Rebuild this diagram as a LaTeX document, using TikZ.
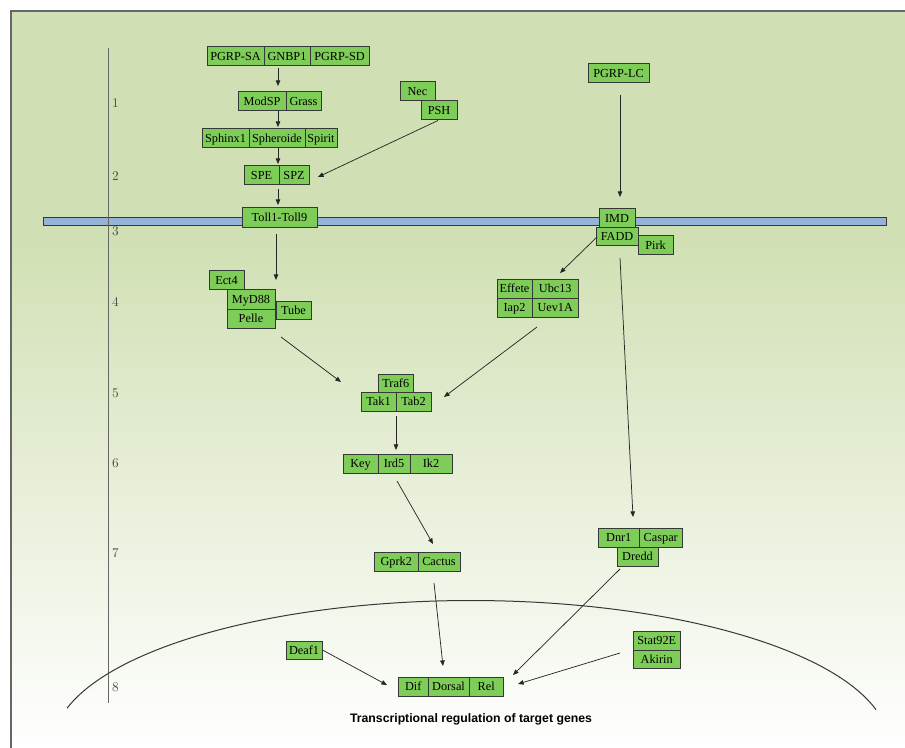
\documentclass[tikz,border=0pt]{standalone}
\usepackage{fontspec}
\newfontfamily\tnr{Liberation Serif}
\newfontfamily\arl{Liberation Sans}
\usetikzlibrary{arrows.meta}
\definecolor{bgtop}{RGB}{209,224,180}
\definecolor{boxg}{RGB}{126,205,88}
\definecolor{memb}{RGB}{149,179,215}
\definecolor{edgec}{RGB}{55,55,55}
\newcommand\mkbox[6]{%
  \pgfmathsetmacro\mkboxw{(#4-#2)*0.75}%
  \pgfmathsetmacro\mkboxh{(#5-#3)*0.75}%
  \node[gb,minimum width=\mkboxw pt,minimum height=\mkboxh pt] (#1) at ({(#2+#4)/2},{(#3+#5)/2}) {#6};}
\begin{document}
\begin{tikzpicture}[x=0.75pt,y=-0.75pt,
  gb/.style={draw=edgec,fill=boxg,line width=0.75pt,inner sep=0pt,outer sep=0pt,
    text height=6.2pt,text depth=0.4pt,
    font=\tnr\fontsize{9.2}{10}\selectfont,text=black},
  arr/.style={draw=black!85,line width=0.55pt,-{Triangle[length=4.2pt,width=3.4pt]}},
  num/.style={font=\fontsize{10}{12}\selectfont,text=black!70,inner sep=0pt},
  framec/.style={draw=black!60,line width=0.9pt}]
\useasboundingbox (0,0) rectangle (905,748);
% background
\fill[bgtop] (11,11) rectangle (906,240);
\shade[top color=bgtop,bottom color=white] (11,240) rectangle (906,749);
\draw[framec] (11,749) -- (11,11) -- (906,11);
% membrane
\draw[fill=memb,draw=edgec,line width=0.75pt] (43,218) rectangle (886,225.5);
% axis
\draw[draw=black!60,line width=0.75pt] (108.3,48) -- (108.3,703);
\node[num] (n1) at (115.5,103) {1};
\node[num] (n2) at (115.5,176) {2};
\node[num] (n3) at (115.5,231) {3};
\node[num] (n4) at (115.5,302) {4};
\node[num] (n5) at (115.5,393) {5};
\node[num] (n6) at (115.5,463) {6};
\node[num] (n7) at (115.5,553) {7};
\node[num] (n8) at (115.5,687) {8};
% nucleus
\draw[draw=edgec,line width=0.75pt] plot[domain=14.3:165.1,samples=150] ({471+418*cos(\x)},{745.5-145*sin(\x)});
% boxes
\mkbox{PGRPSA}{207}{47}{264}{66}{PGRP-SA}
\mkbox{GNBP1}{264}{47}{310}{66}{GNBP1}
\mkbox{PGRPSD}{310}{47}{369}{66}{PGRP-SD}
\mkbox{ModSP}{238}{92}{286}{111}{ModSP}
\mkbox{Grass}{286}{92}{321}{111}{Grass}
\mkbox{Sphinx}{202}{129}{249}{148}{Sphinx1}
\mkbox{Spheroide}{249}{129}{305}{148}{Spheroide}
\mkbox{Spirit}{305}{129}{337}{148}{Spirit}
\mkbox{SPE}{244}{166}{279}{185}{SPE}
\mkbox{SPZ}{279}{166}{309}{185}{SPZ}
\mkbox{Nec}{400}{82}{435}{101}{Nec}
\mkbox{PSH}{421}{101}{457}{120}{PSH}
\mkbox{Toll}{242}{208}{317}{228}{Toll1-Toll9}
\mkbox{PGRPLC}{588}{64}{649}{82.5}{PGRP-LC}
\mkbox{IMD}{599}{209}{635}{227.5}{IMD}
\mkbox{FADD}{596}{227.5}{638}{246}{FADD}
\mkbox{Pirk}{638}{236}{673}{254.5}{Pirk}
\mkbox{Ect4}{209}{271}{244}{289.5}{Ect4}
\mkbox{MyD88}{227}{289.5}{275}{309.5}{MyD88}
\mkbox{Pelle}{227}{309.5}{275}{328.5}{Pelle}
\mkbox{Tube}{276}{301}{311}{319.5}{Tube}
\mkbox{Effete}{497}{279.5}{532}{298.5}{Effete}
\mkbox{Ubc13}{532}{279.5}{578.5}{298.5}{Ubc13}
\mkbox{Iap2}{497}{298.5}{532}{317.5}{Iap2}
\mkbox{Uev1A}{532}{298.5}{578.5}{317.5}{Uev1A}
\mkbox{Traf6}{378}{374}{413.5}{392.5}{Traf6}
\mkbox{Tak1}{361}{392.5}{396}{411}{Tak1}
\mkbox{Tab2}{396}{392.5}{431}{411}{Tab2}
\mkbox{Key}{343}{454.5}{378}{473.5}{Key}
\mkbox{Ird5}{378}{454.5}{410}{473.5}{Ird5}
\mkbox{Ik2}{410}{454.5}{452}{473.5}{Ik2}
\mkbox{Gprk2}{374.5}{552}{418}{571}{Gprk2}
\mkbox{Cactus}{418}{552}{460}{571}{Cactus}
\mkbox{Dnr1}{598}{528}{639.5}{547}{Dnr1}
\mkbox{Caspar}{639.5}{528}{682}{547}{Caspar}
\mkbox{Dredd}{617}{547}{658}{566}{Dredd}
\mkbox{Deaf1}{286}{641}{322}{659.5}{Deaf1}
\mkbox{Dif}{398.5}{677.5}{428}{696}{Dif}
\mkbox{Dorsal}{428}{677.5}{469}{696}{Dorsal}
\mkbox{Rel}{469}{677.5}{503.5}{696}{Rel}
\mkbox{Stat92E}{633.5}{631}{680}{650}{Stat92E}
\mkbox{Akirin}{633.5}{650}{680}{668.5}{Akirin}
% caption
\node[font=\arl\bfseries\fontsize{9.2}{11}\selectfont,inner sep=0pt] (cap) at (471,719) {Transcriptional regulation of target genes};
% connector end points
\coordinate (e1) at (278,86);   \coordinate (s1) at (278,68);
\coordinate (e2) at (278,127);  \coordinate (s2) at (278,111.5);
\coordinate (e3) at (278,164);  \coordinate (s3) at (278,148.5);
\coordinate (e4) at (278,205);  \coordinate (s4) at (278,189);
\coordinate (e5) at (318,177);  \coordinate (s5) at (438,120.5);
\coordinate (e6) at (620,197);  \coordinate (s6) at (620,95);
\coordinate (e7) at (276,280);  \coordinate (s7) at (276,234);
\coordinate (e8) at (560,273);  \coordinate (s8) at (597,237);
\coordinate (e9) at (633,517);  \coordinate (s9) at (620,258);
\coordinate (e10) at (341,382); \coordinate (s10) at (281,337);
\coordinate (e11) at (444,397); \coordinate (s11) at (537,327);
\coordinate (e12) at (396,450); \coordinate (s12) at (396,416);
\coordinate (e13) at (433,544); \coordinate (s13) at (397,481);
\coordinate (e14) at (443,666); \coordinate (s14) at (434,583);
\coordinate (e15) at (513,675); \coordinate (s15) at (620,569);
\coordinate (e16) at (387,685); \coordinate (s16) at (322.5,650);
\coordinate (e17) at (518,684); \coordinate (s17) at (620,653);
% connectors
\draw[arr] (s1) -- (e1);
\draw[arr] (s2) -- (e2);
\draw[arr] (s3) -- (e3);
\draw[arr] (s4) -- (e4);
\draw[arr] (s5) -- (e5);
\draw[arr] (s6) -- (e6);
\draw[arr] (s7) -- (e7);
\draw[arr] (s8) -- (e8);
\draw[arr] (s9) -- (e9);
\draw[arr] (s10) -- (e10);
\draw[arr] (s11) -- (e11);
\draw[arr] (s12) -- (e12);
\draw[arr] (s13) -- (e13);
\draw[arr] (s14) -- (e14);
\draw[arr] (s15) -- (e15);
\draw[arr] (s16) -- (e16);
\draw[arr] (s17) -- (e17);
\end{tikzpicture}
\end{document}
